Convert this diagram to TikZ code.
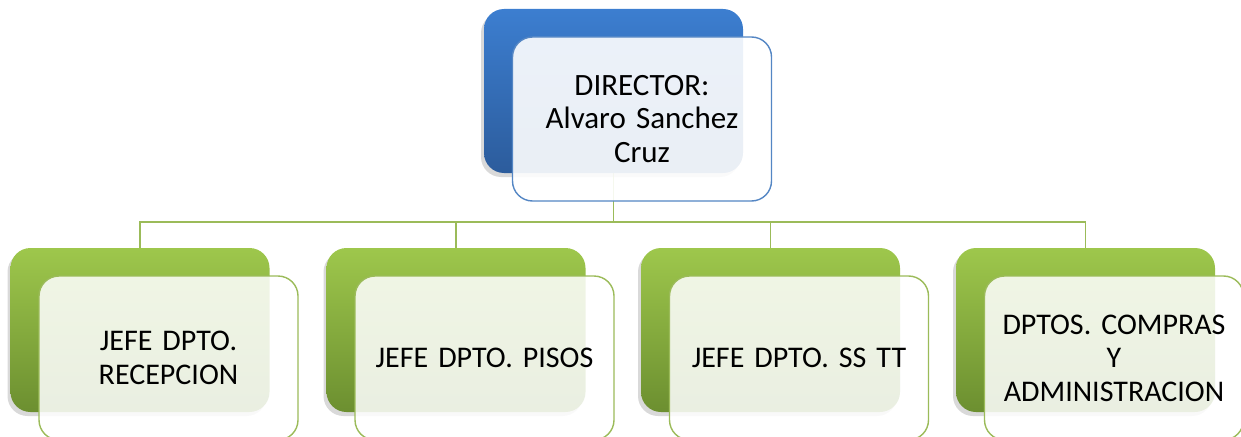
\documentclass[tikz,border=0pt]{standalone}
\usepackage{fontspec}
\setmainfont{Carlito}
\usetikzlibrary{shadows,backgrounds}

\definecolor{azulsup}{RGB}{60,126,208}
\definecolor{azulinf}{RGB}{44,92,156}
\definecolor{azulborde}{RGB}{84,134,196}
\definecolor{verdesup}{RGB}{158,199,76}
\definecolor{verdeinf}{RGB}{108,143,48}
\definecolor{verdeborde}{RGB}{155,187,89}

\tikzset{
 caja/.style={rectangle,rounded corners=20pt,minimum width=259pt,minimum height=164pt,inner sep=0pt},
 azulback/.style={caja,top color=azulsup,bottom color=azulinf,
   drop shadow={shadow xshift=-3pt,shadow yshift=-4pt,opacity=.3}},
 verdeback/.style={caja,top color=verdesup,bottom color=verdeinf,
   drop shadow={shadow xshift=-3pt,shadow yshift=-4pt,opacity=.3}},
 azulfront/.style={caja,draw=azulborde,line width=1.4pt,fill=white,fill opacity=.9,text opacity=1,
   text width=245pt,align=center,font=\fontsize{31}{33.5}\selectfont},
 verdefront/.style={caja,draw=verdeborde,line width=1.4pt,fill=white,fill opacity=.86,text opacity=1,
   text width=250pt,align=center,font=\fontsize{30}{33.5}\selectfont},
 linea/.style={draw=verdeborde,line width=1.6pt},
}

\newcommand{\puesto}[4]{%
 \node ({#1}) [#3back] at ({#2}) {};%
 \node ({#1txt}) [#3front] at ([xshift=28.5pt,yshift=-28pt]{#1}.center) {{#4}};%
}

\begin{document}
\begin{tikzpicture}[x=1pt,y=-1pt]
  \path[use as bounding box,clip] (0,0) rectangle (1241,436);
  \puesto{dir}{613.5,91}{azul}{DIRECTOR:\\Alvaro Sanchez\\Cruz};
  \puesto{recep}{140,330}{verde}{JEFE DPTO.\\RECEPCION};
  \puesto{pisos}{456,330}{verde}{JEFE DPTO. PISOS};
  \puesto{sstt}{770.5,330}{verde}{JEFE DPTO. SS TT};
  \puesto{compras}{1085.5,330}{verde}{DPTOS. COMPRAS\\Y\\ADMINISTRACION};
  \coordinate (bus) at (613.5,222);
  \begin{pgfonlayer}{background}
   \path[linea] (dir.south) -- (bus);
   \foreach \h in {recep,pisos,sstt,compras}
    \path[linea] (bus) -| (\h.north);
  \end{pgfonlayer}
\end{tikzpicture}
\end{document}
